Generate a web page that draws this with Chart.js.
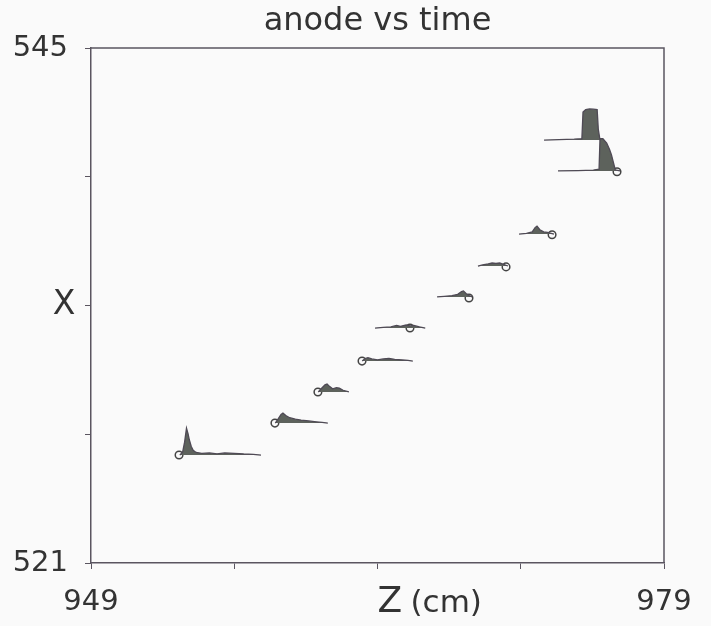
<!DOCTYPE html>
<html>
<head>
<meta charset="utf-8">
<script src="https://cdn.jsdelivr.net/npm/chart.js@4/dist/chart.umd.min.js"></script>
<style>
  html, body { margin: 0; padding: 0; background: #fafafa; }
  #wrap { width: 711px; height: 626px; }
</style>
</head>
<body>
<div id="wrap"><canvas id="anode" width="711" height="626"></canvas></div>
<script>
// Axis ticks (Z along the bottom, X up the side)
const zTicks = [949, 956.5, 964, 971.5, 979];
const zTickText = ['949', '', '', '', '979'];
const xTicks = [521, 527, 533, 539, 545];
const xTickText = ['521', '', '', '', '545'];

// Baseline X of each anode pulse trace
const traceBaseX = [526.03, 527.52, 528.97, 530.41, 531.95, 533.40, 534.84, 536.33, 540.71, 539.27];

// Pulse samples: Z position and height above the trace baseline
const pulseZ = [
  [953.65, 953.80, 953.90, 954.00, 954.08, 954.15, 954.25, 954.35, 954.50, 954.80, 955.20, 955.60, 956.00, 956.50, 957.00, 957.50, 957.90],
  [958.65, 958.80, 958.95, 959.05, 959.20, 959.40, 959.70, 960.00, 960.40, 960.80, 961.10, 961.40],
  [960.90, 961.05, 961.25, 961.36, 961.50, 961.65, 961.85, 962.00, 962.20, 962.50],
  [963.20, 963.35, 963.50, 963.70, 964.00, 964.30, 964.60, 964.90, 965.30, 965.60, 965.85],
  [963.87, 964.30, 964.70, 965.00, 965.20, 965.50, 965.70, 965.90, 966.20, 966.50],
  [967.12, 967.50, 967.90, 968.20, 968.40, 968.50, 968.65, 968.80, 968.95],
  [969.26, 969.50, 969.80, 970.00, 970.20, 970.40, 970.60, 970.83],
  [971.41, 971.80, 972.10, 972.25, 972.35, 972.50, 972.70, 972.90, 973.24],
  [972.72, 973.50, 974.30, 974.70, 974.76, 974.90, 975.10, 975.30, 975.50, 975.56, 975.65],
  [973.45, 974.50, 975.30, 975.60, 975.65, 975.80, 976.00, 976.15, 976.25, 976.35, 976.45, 976.70]
];
const pulseAmp = [
  [0, 0.15, 0.60, 1.25, 1.00, 0.70, 0.40, 0.22, 0.12, 0.08, 0.10, 0.06, 0.10, 0.08, 0.05, 0.03, 0],
  [0, 0.20, 0.40, 0.47, 0.35, 0.25, 0.18, 0.14, 0.10, 0.06, 0.03, 0],
  [0, 0.15, 0.33, 0.37, 0.25, 0.15, 0.20, 0.18, 0.08, 0],
  [0, 0.12, 0.16, 0.10, 0.06, 0.10, 0.12, 0.08, 0.05, 0.03, 0],
  [0, 0.03, 0.05, 0.12, 0.08, 0.14, 0.10, 0.12, 0.05, 0],
  [0, 0.03, 0.06, 0.12, 0.25, 0.28, 0.15, 0.06, 0],
  [0, 0.05, 0.10, 0.14, 0.12, 0.14, 0.08, 0],
  [0, 0.03, 0.10, 0.30, 0.37, 0.20, 0.10, 0.08, 0],
  [0, 0.02, 0.04, 0.06, 1.30, 1.42, 1.45, 1.44, 1.42, 0.50, 0],
  [0, 0.02, 0.04, 0.08, 1.50, 1.50, 1.30, 1.00, 0.75, 0.40, 0.05, 0]
];

// Hit markers (open circles)
const hitZ = [953.61, 958.63, 960.88, 963.19, 965.70, 968.79, 970.73, 973.14, 976.54];
const hitX = [526.03, 527.52, 528.97, 530.41, 531.95, 533.35, 534.80, 536.30, 539.23];

const titleText = 'anode vs time';
const zTitle = 'Z';
const zUnit = '(cm)';
const xTitle = 'X';

const INK = '#333333';
const AXIS = '#5a5560';
const FONT = "'DejaVu Sans', Verdana, sans-serif";

const datasets = traceBaseX.map((base, i) => ({
  type: 'line',
  data: pulseZ[i].map((z, k) => ({ x: z, y: base + pulseAmp[i][k] })),
  borderColor: '#4f4a55',
  backgroundColor: '#5d625c',
  borderWidth: 1.3,
  pointRadius: 0,
  tension: 0,
  fill: { value: base },
}));

datasets.push({
  type: 'scatter',
  data: hitZ.map((z, i) => ({ x: z, y: hitX[i] })),
  pointRadius: 3.8,
  pointBackgroundColor: 'rgba(255,255,255,0)',
  pointBorderColor: '#444444',
  pointBorderWidth: 1.5,
});

// Title, axis names and the top/right frame edges
const frameText = {
  id: 'frameText',
  afterDraw(chart) {
    const { ctx, chartArea: a, scales } = chart;
    ctx.save();
    ctx.strokeStyle = AXIS;
    ctx.lineWidth = 1.5;
    ctx.beginPath();
    ctx.moveTo(a.left, a.top);
    ctx.lineTo(a.right, a.top);
    ctx.lineTo(a.right, a.bottom);
    ctx.stroke();

    ctx.fillStyle = INK;
    ctx.textBaseline = 'alphabetic';
    ctx.textAlign = 'center';
    ctx.font = `32px ${FONT}`;
    ctx.fillText(titleText, (a.left + a.right) / 2, 30);

    ctx.font = `33px ${FONT}`;
    ctx.fillText(xTitle, a.left - 27, scales.y.getPixelForValue(533) + 8);

    ctx.textAlign = 'left';
    const zx = scales.x.getPixelForValue(964);
    ctx.font = `36px ${FONT}`;
    ctx.fillText(zTitle, zx, 612);
    ctx.font = `31px ${FONT}`;
    ctx.fillText(zUnit, zx + 33, 612);
    ctx.restore();
  }
};

new Chart(document.getElementById('anode'), {
  type: 'line',
  data: { datasets },
  plugins: [frameText],
  options: {
    responsive: false,
    animation: false,
    events: [],
    layout: { padding: { top: 48, right: 47, left: 0, bottom: 0 } },
    plugins: {
      legend: { display: false },
      tooltip: { enabled: false },
      title: { display: false },
    },
    scales: {
      x: {
        type: 'linear',
        min: 949,
        max: 979,
        afterBuildTicks: s => { s.ticks = zTicks.map(v => ({ value: v })); },
        afterFit: s => { s.height = 63; },
        ticks: {
          callback: (v, i) => zTickText[i],
          autoSkip: false,
          maxRotation: 0,
          padding: 16,
          color: INK,
          font: { family: FONT, size: 29 },
        },
        grid: { drawOnChartArea: false, drawTicks: true, tickLength: 6, color: AXIS },
        border: { display: true, color: AXIS, width: 1.5 },
      },
      y: {
        type: 'linear',
        min: 521,
        max: 545,
        afterBuildTicks: s => { s.ticks = xTicks.map(v => ({ value: v })); },
        afterFit: s => { s.width = 91; },
        ticks: {
          callback: (v, i) => xTickText[i],
          autoSkip: false,
          padding: 17,
          color: INK,
          font: { family: FONT, size: 29 },
        },
        grid: { drawOnChartArea: false, drawTicks: true, tickLength: 6, color: AXIS },
        border: { display: true, color: AXIS, width: 1.5 },
      },
    },
  },
});
</script>
</body>
</html>
